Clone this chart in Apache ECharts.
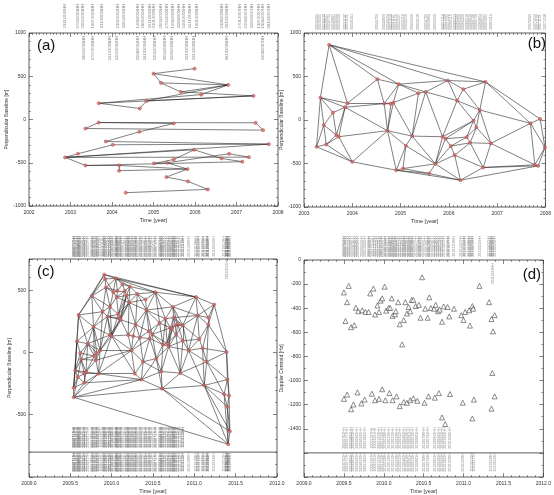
<!DOCTYPE html>
<html><head><meta charset="utf-8">
<script src="https://cdn.jsdelivr.net/npm/echarts/dist/echarts.min.js"></script>
<style>html,body{margin:0;padding:0;background:#fff}#c{width:554px;height:495px}</style>
</head><body><div id="c"></div>
<script>
// ---------- Panel (a) ----------
const aTime = [2005.99,2005.00,2005.18,2006.80,2005.66,2006.15,2007.41,2004.83,2003.68,2004.67,2003.68,2005.49,2007.46,2003.36,2007.64,2004.66,2003.85,2004.02,2007.78,2003.18,2002.87,2005.98,2006.82,2007.30,2006.64,2005.49,2005.33,2005.01,2007.14,2003.36,2004.17,2005.82,2004.17,2005.31,2005.83,2006.31,2004.33];
const aBase = [588,530,423,400,319,288,273,215,188,127,-35,-46,-38,-104,-123,-142,-254,-292,-285,-396,-438,-350,-396,-435,-450,-462,-500,-508,-488,-531,-531,-573,-592,-665,-715,-808,-846];
const aEdges = [[0,1],[1,2],[1,3],[2,4],[2,3],[4,3],[4,6],[5,3],[5,8],[8,6],[8,9],[9,7],[7,6],[7,3],
  [10,12],[10,13],[13,14],[12,14],[10,11],[11,15],[15,16],[16,18],[18,17],[17,19],[19,20],[20,23],[23,22],[20,29],[29,28],[28,24],[24,21],[21,25],[25,27],[27,26],[26,22],[29,30],[30,31],[31,32],[32,30],[31,33],[33,34],[34,35],[35,36],[26,31],[20,21],[20,18]];
const aLabRow1Time = [2002.87,2003.18,2003.30,2003.54,2003.75,2004.14,2004.28,2004.62,2004.74,2004.91,2005.00,2005.17,2005.32,2005.46,2005.61,2005.73,2005.87,2006.04,2006.64,2006.76,2007.07,2007.22,2007.36,2007.53,2007.63,2007.77];
const aLabRow1Text = ['13112002HH','07032003HH','20042003HH','16072003HH','01102003HH','21022004HH','11042004HH','14082004HH','28092004HH','29112004HH','01012005HH','05032005HH','27042005HH','19062005HH','11082005HH','24092005HH','14112005HH','16012006HH','23082006HH','05102006HH','27012007HH','22032007HH','11052007HH','13072007HH','18082007HH','08102007HH'];
const aLabRow2Time = [2003.32,2003.54,2003.95,2004.12,2004.62,2004.79,2005.03,2005.27,2005.44,2005.80,2005.97,2006.76,2007.63];
const aLabRow2Text = ['28042003HH','17072003HH','14122003HH','14022004HH','15082004HH','16102004HH','12012005HH','09042005HH','11062005HH','20102005HH','20122005HH','06102006HH','19082007HH'];

// ---------- Panel (b) ----------
const bTime = [2003.52,2004.52,2004.96,2005.37,2005.52,2005.98,2006.30,2006.76,2003.34,2003.90,2003.85,2003.60,2003.41,2004.66,2004.80,2004.85,2006.17,2006.64,2006.51,2006.57,2007.69,2007.89,2004.73,2005.24,2003.67,2003.72,2003.46,2003.26,2005.11,2005.87,2005.93,2006.37,2006.44,2006.04,2006.12,2006.87,2007.99,2004.00,2004.91,2005.05,2005.59,2005.72,2006.24,2006.71,2007.78,2007.85];
const bBase = [865,469,412,308,323,454,354,438,258,192,146,85,-58,188,185,200,223,115,-8,-85,-38,12,-123,-185,-173,-192,-281,-308,-296,-192,-215,-196,-262,-300,-404,-269,-315,-481,-577,-558,-615,-504,-692,-546,-515,-527];

// ---------- Panel (c) ----------
const cTime = [2009.54,2009.54,2009.56,2009.58,2009.59,2009.60,2009.62,2009.63,2009.67,2009.67,2009.69,2009.71,2009.76,2009.78,2009.79,2009.81,2009.82,2009.84,2009.86,2009.91,2009.92,2009.93,2009.89,2009.95,2009.98,2010.00,2009.98,2010.02,2010.05,2010.07,2010.06,2010.08,2010.10,2010.11,2010.13,2010.16,2010.18,2010.21,2010.22,2010.20,2010.24,2010.28,2010.26,2010.29,2010.31,2010.34,2010.36,2010.38,2010.41,2010.42,2010.45,2010.46,2010.49,2010.53,2010.58,2010.60,2010.61,2010.54,2010.62,2010.65,2010.67,2010.69,2010.71,2010.74,2010.73,2010.75,2010.77,2010.80,2010.83,2010.86,2010.86,2010.93,2011.02,2011.04,2011.06,2011.10,2011.12,2011.15,2011.17,2011.17,2011.24,2011.39,2011.40,2011.40,2011.36,2011.42,2011.43,2011.41,2010.78];
const cBase = [-283,-360,-145,88,-197,301,-5,-57,-171,-244,-156,70,454,205,-29,-62,-5,-171,16,625,591,521,327,288,140,132,366,482,594,495,444,306,275,262,547,495,457,400,529,140,16,-171,132,223,470,119,-218,-75,425,340,171,112,145,483,236,-153,-291,-49,62,270,73,47,197,366,184,280,218,228,-166,218,93,16,445,296,106,34,-265,-75,280,223,384,3,-218,-438,-335,-348,-633,-737,142];

// ---------- Panel (d) ----------
const dTimeUp = [2009.50,2009.52,2009.56,2009.54,2009.59,2009.63,2009.65,2009.68,2009.73,2009.77,2009.81,2009.83,2009.87,2009.89,2009.92,2009.94,2009.96,2009.98,2010.01,2010.03,2010.06,2010.08,2010.10,2010.11,2010.14,2010.15,2010.18,2010.20,2010.23,2010.25,2010.27,2010.29,2010.31,2010.33,2010.35,2010.37,2010.40,2010.44,2010.46,2010.48,2010.52,2010.55,2010.57,2010.59,2010.63,2010.65,2010.68,2010.70,2010.73,2010.75,2010.80,2010.82,2010.88,2010.97,2011.00,2011.02,2011.07,2011.08,2011.11,2011.12,2011.20,2011.32,2011.35,2011.37,2011.39,2011.36];
const dDopUp = [-269,-506,-215,-350,-557,-541,-396,-425,-417,-431,-431,-277,-237,-452,-377,-431,-337,-318,-221,-420,-398,-398,-318,-463,-450,-425,-350,-533,-700,-498,-350,-444,-390,-425,-331,-331,-382,-372,-479,-143,-404,-479,-310,-398,-404,-372,-425,-412,-512,-385,-390,-468,-404,-458,-498,-431,-417,-544,-382,-404,-215,-350,-490,-592,-458,-937];
const dTimeLow = [2009.50,2009.54,2009.59,2009.62,2009.67,2009.72,2009.76,2009.85,2009.89,2009.94,2009.98,2010.02,2010.07,2010.11,2010.16,2010.20,2010.25,2010.29,2010.33,2010.37,2010.42,2010.51,2010.56,2010.64,2010.69,2010.73,2010.77,2010.83,2010.99,2011.11,2011.13,2011.35,2011.39];
const dDopLow = [-1152,-1117,-1238,-1198,-1098,-1190,-1158,-1109,-1163,-1152,-1072,-1163,-1104,-1163,-1131,-1212,-1179,-1184,-1163,-1147,-1168,-1184,-1131,-1142,-1104,-1306,-1360,-1112,-1184,-1314,-1158,-1233,-1131];

// ---------- helpers ----------
function triEdges(ts, vs, xr, yr, W, H) {
  const P = ts.map((t, i) => [(t - xr[0]) / (xr[1] - xr[0]) * W, (vs[i] - yr[0]) / (yr[1] - yr[0]) * H]);
  const n = P.length, M = 1e5;
  P.push([-M, -M], [M, -M], [0, M]);
  function cc(v) {
    const a = P[v[0]], b = P[v[1]], c = P[v[2]];
    const d = 2 * (a[0] * (b[1] - c[1]) + b[0] * (c[1] - a[1]) + c[0] * (a[1] - b[1]));
    const a2 = a[0] * a[0] + a[1] * a[1], b2 = b[0] * b[0] + b[1] * b[1], c2 = c[0] * c[0] + c[1] * c[1];
    const ux = (a2 * (b[1] - c[1]) + b2 * (c[1] - a[1]) + c2 * (a[1] - b[1])) / d;
    const uy = (a2 * (c[0] - b[0]) + b2 * (a[0] - c[0]) + c2 * (b[0] - a[0])) / d;
    return [ux, uy, (a[0] - ux) ** 2 + (a[1] - uy) ** 2];
  }
  let tris = [{ v: [n, n + 1, n + 2] }]; tris[0].c = cc(tris[0].v);
  for (let i = 0; i < n; i++) {
    const p = P[i], bad = [], good = [];
    for (const t of tris) { const dx = p[0] - t.c[0], dy = p[1] - t.c[1]; (dx * dx + dy * dy < t.c[2] ? bad : good).push(t); }
    const em = new Map();
    for (const t of bad) { const v = t.v; for (const [a, b] of [[v[0], v[1]], [v[1], v[2]], [v[2], v[0]]]) { const k = a < b ? a + ',' + b : b + ',' + a; em.set(k, (em.get(k) || 0) + 1); } }
    tris = good;
    for (const [k, cnt] of em) { if (cnt === 1) { const [a, b] = k.split(',').map(Number); const v = [a, b, i]; tris.push({ v, c: cc(v) }); } }
  }
  const out = [];
  for (const t of tris) { const v = t.v; if (v.some(x => x >= n)) continue;
    for (const [a, b] of [[v[0], v[1]], [v[1], v[2]], [v[2], v[0]]]) out.push(a < b ? [a, b] : [b, a]); }
  return out;
}
function uniqEdges(list) {
  const s = new Set(), out = [];
  for (const e of list) { const k = e[0] + ',' + e[1]; if (!s.has(k)) { s.add(k); out.push(e); } }
  return out;
}
function fmtDate(t) {
  const y = Math.floor(t); const doy = (t - y) * 365;
  const md = [31,28,31,30,31,30,31,31,30,31,30,31]; let m = 0, d = Math.floor(doy);
  while (m < 11 && d >= md[m]) { d -= md[m]; m++; }
  return String(y) + String(m + 1).padStart(2, '0') + String(d + 1).padStart(2, '0');
}
const TXT = '#333', FONT = 'Liberation Sans, DejaVu Sans, sans-serif';
function xAxes(gi, min, max, interval, minor, fmt) {
  const tick = { inside: true, length: 4, lineStyle: { color: '#333', width: 0.6 } };
  const mt = { show: true, splitNumber: minor, length: 2, lineStyle: { color: '#333', width: 0.5 } };
  return [
    { gridIndex: gi, type: 'value', min, max, interval, position: 'bottom', axisLine: { show: false, onZero: false }, axisTick: tick, minorTick: mt, splitLine: { show: false },
      axisLabel: { fontSize: 5, color: TXT, margin: 4, fontFamily: FONT, formatter: fmt }, name: 'Time [year]', nameLocation: 'middle', nameGap: 11,
      nameTextStyle: { fontSize: 5.5, color: TXT, fontFamily: FONT } },
    { gridIndex: gi, type: 'value', min, max, interval, position: 'top', axisLine: { show: false, onZero: false }, axisTick: tick, minorTick: mt, splitLine: { show: false }, axisLabel: { show: false } }
  ];
}
function yAxes(gi, min, max, interval, minor, fmt, name, gap) {
  const tick = { inside: true, length: 4, lineStyle: { color: '#333', width: 0.6 } };
  const mt = { show: true, splitNumber: minor, length: 2, lineStyle: { color: '#333', width: 0.5 } };
  return [
    { gridIndex: gi, type: 'value', min, max, interval, position: 'left', axisLine: { show: false, onZero: false }, axisTick: tick, minorTick: mt, splitLine: { show: false },
      axisLabel: { fontSize: 5, color: TXT, margin: 3, fontFamily: FONT, formatter: fmt }, name, nameLocation: 'middle', nameGap: gap,
      nameTextStyle: { fontSize: 5, color: TXT, fontFamily: FONT } },
    { gridIndex: gi, type: 'value', min, max, interval, position: 'right', axisLine: { show: false, onZero: false }, axisTick: tick, minorTick: mt, splitLine: { show: false }, axisLabel: { show: false } }
  ];
}
function netSeries(ax, ts, vs, edges) {
  return { type: 'lines', coordinateSystem: 'cartesian2d', xAxisIndex: ax, yAxisIndex: ax, silent: true, animation: false, z: 2,
    lineStyle: { color: '#1e1e1e', width: 0.6, opacity: 0.95 },
    data: edges.map(e => ({ coords: [[ts[e[0]], vs[e[0]]], [ts[e[1]], vs[e[1]]]] })) };
}
function ptSeries(ax, ts, vs) {
  return { type: 'scatter', xAxisIndex: ax, yAxisIndex: ax, symbol: 'circle', symbolSize: 3.2, silent: true, animation: false, z: 3,
    itemStyle: { color: '#e07070', borderColor: '#a03030', borderWidth: 0.5 }, data: ts.map((t, i) => [t, vs[i]]) };
}
function labSeries(ax, ts, texts, level, fs) {
  return { type: 'scatter', xAxisIndex: ax, yAxisIndex: ax, symbolSize: 1, clip: false, silent: true, animation: false, z: 4,
    itemStyle: { color: 'rgba(0,0,0,0)' },
    label: { show: true, position: 'inside', rotate: 90, fontSize: fs, color: '#666', fontFamily: FONT, formatter: p => p.data[2] },
    labelLayout: { hideOverlap: false },
    data: ts.map((t, i) => [t, level, texts[i]]) };
}
function triSeries(ax, ts, vs) {
  return { type: 'scatter', xAxisIndex: ax, yAxisIndex: ax, symbol: 'triangle', symbolSize: 5, silent: true, animation: false,
    itemStyle: { color: '#ffffff', borderColor: '#333', borderWidth: 0.7 }, data: ts.map((t, i) => [t, vs[i]]) };
}
function hLine(ax, y, xr) {
  return { type: 'line', xAxisIndex: ax, yAxisIndex: ax, symbol: 'none', silent: true, animation: false,
    lineStyle: { color: '#333', width: 0.8 }, data: [[xr[0], y], [xr[1], y]] };
}

const bEdges = uniqEdges(triEdges(bTime, bBase, [2003, 2008], [-1000, 1000], 246, 174));
const cEdges = uniqEdges(triEdges(cTime, cBase, [2009, 2012], [-1000, 750], 248, 224)
  .concat(triEdges(cTime, cBase, [2009, 2012], [-1000, 750], 248 * 3, 224)));
const yr = v => String(v);
const y1 = v => v.toFixed(1);

const option = {
  backgroundColor: '#fff',
  animation: false,
  title: [
    { text: '(a)', left: 32, top: 33, textStyle: { fontSize: 15, fontWeight: 'normal', color: '#111', fontFamily: FONT } },
    { text: '(b)', right: 3, top: 31, textStyle: { fontSize: 15, fontWeight: 'normal', color: '#111', fontFamily: FONT } },
    { text: '(c)', left: 32, top: 259, textStyle: { fontSize: 15, fontWeight: 'normal', color: '#111', fontFamily: FONT } },
    { text: '(d)', right: 8, top: 262, textStyle: { fontSize: 15, fontWeight: 'normal', color: '#111', fontFamily: FONT } }
  ],
  grid: [
    { left: 29, top: 33, width: 249, height: 173, show: true, borderColor: '#333', borderWidth: 0.8 },
    { left: 304, top: 33, width: 246, height: 174, show: true, borderColor: '#333', borderWidth: 0.8 },
    { left: 29, top: 259, width: 248, height: 224, show: true, borderColor: '#333', borderWidth: 0.8 },
    { left: 304, top: 260, width: 248, height: 223, show: true, borderColor: '#333', borderWidth: 0.8 }
  ],
  xAxis: [].concat(
    xAxes(0, 2002, 2008, 1, 12, yr),
    xAxes(1, 2003, 2008, 1, 12, yr),
    xAxes(2, 2009, 2012, 0.5, 5, y1),
    xAxes(3, 2009, 2012, 0.5, 5, y1)
  ),
  yAxis: [].concat(
    yAxes(0, -1000, 1000, 500, 5, yr, 'Perpendicular Baseline [m]', 17),
    yAxes(1, -1000, 1000, 500, 5, yr, 'Perpendicular Baseline [m]', 17),
    yAxes(2, -1000, 750, 500, 5, v => (v === -1000 || v === 750 ? '' : String(v)), 'Perpendicular Baseline [m]', 17),
    yAxes(3, -1800, 0, 200, 2, v => (v < -1400 ? '' : String(v)), 'Doppler Centroid [Hz]', 19)
  ),
  series: [
    // (a)
    netSeries(0, aTime, aBase, aEdges),
    ptSeries(0, aTime, aBase),
    labSeries(0, aLabRow1Time, aLabRow1Text, 1196, 4.2),
    labSeries(0, aLabRow2Time, aLabRow2Text, 827, 4.2),
    // (b)
    netSeries(2, bTime, bBase, bEdges),
    ptSeries(2, bTime, bBase),
    labSeries(2, bTime, bTime.map(fmtDate), 1126, 3.6),
    // (c)
    netSeries(4, cTime, cBase, cEdges),
    ptSeries(4, cTime, cBase),
    hLine(4, -800, [2009, 2012]),
    labSeries(4, cTime, cTime.map(t => fmtDate(t) + 'HH'), 851, 3.6),
    labSeries(4, cTime.filter(t => t < 2010.87), cTime.filter(t => t < 2010.87).map(t => fmtDate(t) + 'HH'), -680, 3.6),
    labSeries(4, cTime, cTime.map(t => fmtDate(t) + 'H'), -883, 3.6),
    labSeries(4, [2011.40], ['20110521HH'], 672, 3.6),
    // (d)
    triSeries(6, dTimeUp, dDopUp),
    triSeries(6, dTimeLow, dDopLow),
    hLine(6, -1600, [2009, 2012]),
    labSeries(6, dTimeUp, dTimeUp.map(t => fmtDate(t) + 'HH'), 113, 3.6),
    labSeries(6, dTimeLow.filter(t => t < 2010.9), dTimeLow.filter(t => t < 2010.9).map(t => fmtDate(t) + 'HH'), -1477, 3.6),
    labSeries(6, dTimeLow, dTimeLow.map(t => fmtDate(t) + 'H'), -1679, 3.6),
    labSeries(6, [2011.37], ['20110518HH'], -113, 3.6)
  ]
};
const chart = echarts.init(document.getElementById('c'), null, { renderer: 'canvas' });
chart.setOption(option);
</script>
</body></html>
